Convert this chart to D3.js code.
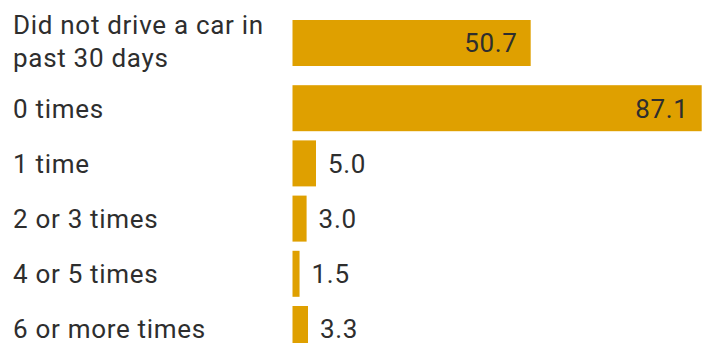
<!DOCTYPE html>
<html>
<head>
<meta charset="utf-8">
<script src="https://cdn.jsdelivr.net/npm/d3@7"></script>
<style>
  html, body { margin: 0; padding: 0; background: #fff; }
  svg { display: block; font-family: Roboto, "Noto Sans", sans-serif; }
</style>
</head>
<body>
<svg id="chart" width="709" height="343"></svg>
<script>
// Number of times driven a car in the past 30 days (percent)
const categories = [
  ["Did not drive a car in", "past 30 days"],
  ["0 times"],
  ["1 time"],
  ["2 or 3 times"],
  ["4 or 5 times"],
  ["6 or more times"]
];
const values = [50.7, 87.1, 5.0, 3.0, 1.5, 3.3];

const svg = d3.select("#chart");
const barColor = "#dfa000";
const textColor = "#2e2e2e";
const fontSize = 26;
const letterSpacing = 0.7;
const lineHeight = 33;
const barHeight = 46;
const baseStep = 55.2;
const extraPerLine = 10;
const labelX = 13;
const firstRowY = 20;

const x = d3.scaleLinear().domain([0, 87.1]).range([292.5, 701.7]);

// cumulative row positions; multi-line labels take a little more room
const rows = [];
let yPos = firstRowY;
categories.forEach((lines, i) => {
  rows.push({ lines, value: values[i], y: yPos });
  yPos += baseStep + extraPerLine * (lines.length - 1);
});

const g = svg.selectAll("g.row").data(rows).join("g").attr("class", "row");

g.append("rect")
  .attr("x", x(0))
  .attr("y", d => d.y)
  .attr("width", d => x(d.value) - x(0))
  .attr("height", barHeight)
  .attr("fill", barColor);

// category labels, vertically centred on the bar
g.each(function (d) {
  const cy = d.y + barHeight / 2;
  const n = d.lines.length;
  const lift = n > 1 ? 1.5 : 0;
  const t = d3.select(this).append("text")
    .attr("x", labelX)
    .attr("fill", textColor)
    .style("font-size", fontSize + "px")
    .style("letter-spacing", letterSpacing + "px");
  d.lines.forEach((line, j) => {
    t.append("tspan")
      .attr("x", labelX)
      .attr("y", cy - lift + (j - (n - 1) / 2) * lineHeight)
      .attr("dy", "0.36em")
      .text(line);
  });
});

// value labels: inside the bar when it is wide enough, else just past its end
const inside = d => x(d.value) - x(0) > 80;
g.append("text")
  .attr("x", d => inside(d) ? x(d.value) - 13 : x(d.value) + 12)
  .attr("y", d => d.y + barHeight / 2)
  .attr("dy", "0.36em")
  .attr("text-anchor", d => inside(d) ? "end" : "start")
  .attr("fill", textColor)
  .style("font-size", fontSize + "px")
  .style("letter-spacing", letterSpacing + "px")
  .text(d => d.value.toFixed(1));
</script>
</body>
</html>
